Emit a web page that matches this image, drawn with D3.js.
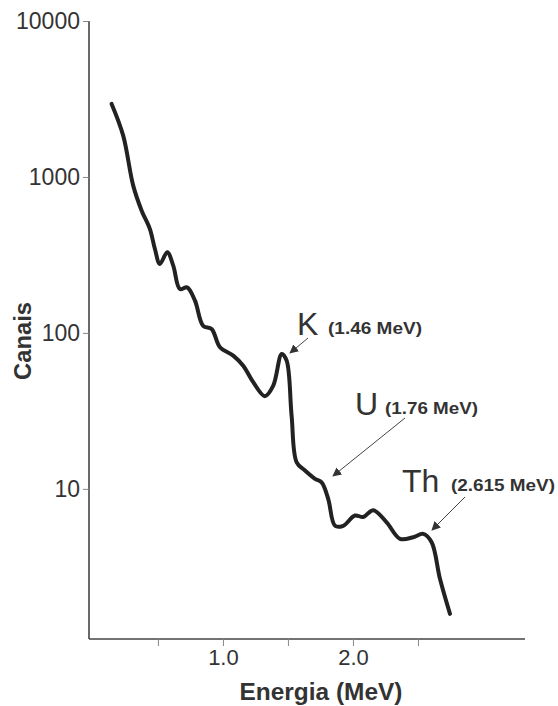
<!DOCTYPE html>
<html>
<head>
<meta charset="utf-8">
<script src="https://cdn.jsdelivr.net/npm/d3@7"></script>
<style>
  body { margin: 0; background: #fff; }
  text { font-family: "Liberation Sans", Arial, sans-serif; }
</style>
</head>
<body>
<div id="chart"></div>
<script>
// spectrum
var energy = [0.144, 0.233, 0.310, 0.375, 0.438, 0.477, 0.515, 0.572, 0.618, 0.669,
              0.725, 0.785, 0.848, 0.913, 0.977, 1.079, 1.156, 1.233, 1.323, 1.387,
              1.452, 1.490, 1.528, 1.567, 1.631, 1.708, 1.759, 1.810, 1.862, 1.925,
              2.015, 2.079, 2.156, 2.259, 2.362, 2.464, 2.541, 2.605, 2.669, 2.746];
var counts = [2940, 1842, 880, 608, 464, 345, 277, 329, 270, 191,
              196, 161, 111, 106, 81, 71.5, 61.6, 48.3, 39.3, 45.9,
              73.3, 66.4, 29.5, 14.8, 13.1, 11.6, 11.0, 8.6, 5.8, 5.8,
              6.75, 6.6, 7.3, 6.1, 4.78, 4.9, 5.15, 4.55, 2.65, 1.58];

var yTicks = [10, 100, 1000, 10000];
var xTicks = [0.5, 1.0, 1.5, 2.0, 2.5];
var xLabels = {1.0: "1.0", 2.0: "2.0"};

var width = 558, height = 706;

var svg = d3.select("#chart").append("svg")
    .attr("width", width)
    .attr("height", height);

var x = d3.scaleLinear().domain([-0.03, 3.323]).range([89, 525]);
var y = d3.scaleLog().domain([1.09, 10000]).range([639, 21]);

svg.append("defs").append("marker")
    .attr("id", "arrow")
    .attr("viewBox", "0 0 10 10")
    .attr("refX", 9).attr("refY", 5)
    .attr("markerWidth", 9).attr("markerHeight", 9)
    .attr("markerUnits", "userSpaceOnUse")
    .attr("orient", "auto")
  .append("path")
    .attr("d", "M0,0L10,5L0,10z")
    .attr("fill", "#333");

// y axis
var yAxis = svg.append("g")
    .attr("transform", "translate(89,0)")
    .call(d3.axisLeft(y).tickValues(yTicks).tickSize(6).tickPadding(3)
        .tickFormat(d3.format("d")));
yAxis.select(".domain").attr("stroke", "#444").attr("stroke-width", 1.6)
    .attr("d", "M0," + y(10000) + "V639");
yAxis.selectAll(".tick line").attr("stroke", "#888");
yAxis.selectAll(".tick text").attr("font-size", 23).attr("fill", "#333")
    .attr("font-family", "Liberation Sans, Arial, sans-serif");

// x axis
var xAxis = svg.append("g")
    .attr("transform", "translate(0,639)")
    .call(d3.axisBottom(x).tickValues(xTicks).tickSize(7).tickPadding(3)
        .tickFormat(function(d) { return xLabels[d] || ""; }));
xAxis.select(".domain").attr("stroke", "#444").attr("stroke-width", 1.6)
    .attr("d", "M89,0H525");
xAxis.selectAll(".tick line").attr("stroke", "#888");
xAxis.selectAll(".tick text").attr("font-size", 22).attr("fill", "#333")
    .attr("font-family", "Liberation Sans, Arial, sans-serif");

// axis titles
svg.append("text")
    .attr("x", 321).attr("y", 700)
    .attr("text-anchor", "middle")
    .attr("font-size", 23).attr("font-weight", "bold").attr("fill", "#333")
    .attr("textLength", 163).attr("lengthAdjust", "spacingAndGlyphs")
    .text("Energia (MeV)");

svg.append("text")
    .attr("transform", "translate(31,341) rotate(-90)")
    .attr("text-anchor", "middle")
    .attr("font-size", 23).attr("font-weight", "bold").attr("fill", "#333")
    .attr("textLength", 78).attr("lengthAdjust", "spacingAndGlyphs")
    .text("Canais");

// spectrum line
var line = d3.line()
    .x(function(d, i) { return x(energy[i]); })
    .y(function(d) { return y(d); })
    .curve(d3.curveCatmullRom.alpha(0.5));

svg.append("path")
    .datum(counts)
    .attr("fill", "none")
    .attr("stroke", "#222")
    .attr("stroke-width", 4)
    .attr("stroke-linecap", "round")
    .attr("stroke-linejoin", "round")
    .attr("d", line);

// peak annotations
var notes = [
    {el: "K", peak: "(1.46 MeV)", tx: 297, ty: 335, px: 328, pw: 94, x1: 308, y1: 338, x2: 290, y2: 353},
    {el: "U", peak: "(1.76 MeV)", tx: 355, ty: 415, px: 385, pw: 93, x1: 405, y1: 418, x2: 333, y2: 476},
    {el: "Th", peak: "(2.615 MeV)", tx: 402, ty: 492, px: 451, pw: 104, x1: 465, y1: 497, x2: 432, y2: 530}
];

var note = svg.append("g").selectAll("g")
    .data(notes)
    .enter().append("g");

note.append("text")
    .attr("x", function(d) { return d.tx; })
    .attr("y", function(d) { return d.ty; })
    .attr("font-size", 32).attr("fill", "#333")
    .text(function(d) { return d.el; });

note.append("text")
    .attr("x", function(d) { return d.px; })
    .attr("y", function(d) { return d.ty - 1; })
    .attr("font-size", 16).attr("font-weight", "bold").attr("fill", "#333")
    .attr("textLength", function(d) { return d.pw; })
    .attr("lengthAdjust", "spacingAndGlyphs")
    .text(function(d) { return d.peak; });

note.append("line")
    .attr("x1", function(d) { return d.x1; })
    .attr("y1", function(d) { return d.y1; })
    .attr("x2", function(d) { return d.x2; })
    .attr("y2", function(d) { return d.y2; })
    .attr("stroke", "#444").attr("stroke-width", 1)
    .attr("marker-end", "url(#arrow)");
</script>
</body>
</html>
